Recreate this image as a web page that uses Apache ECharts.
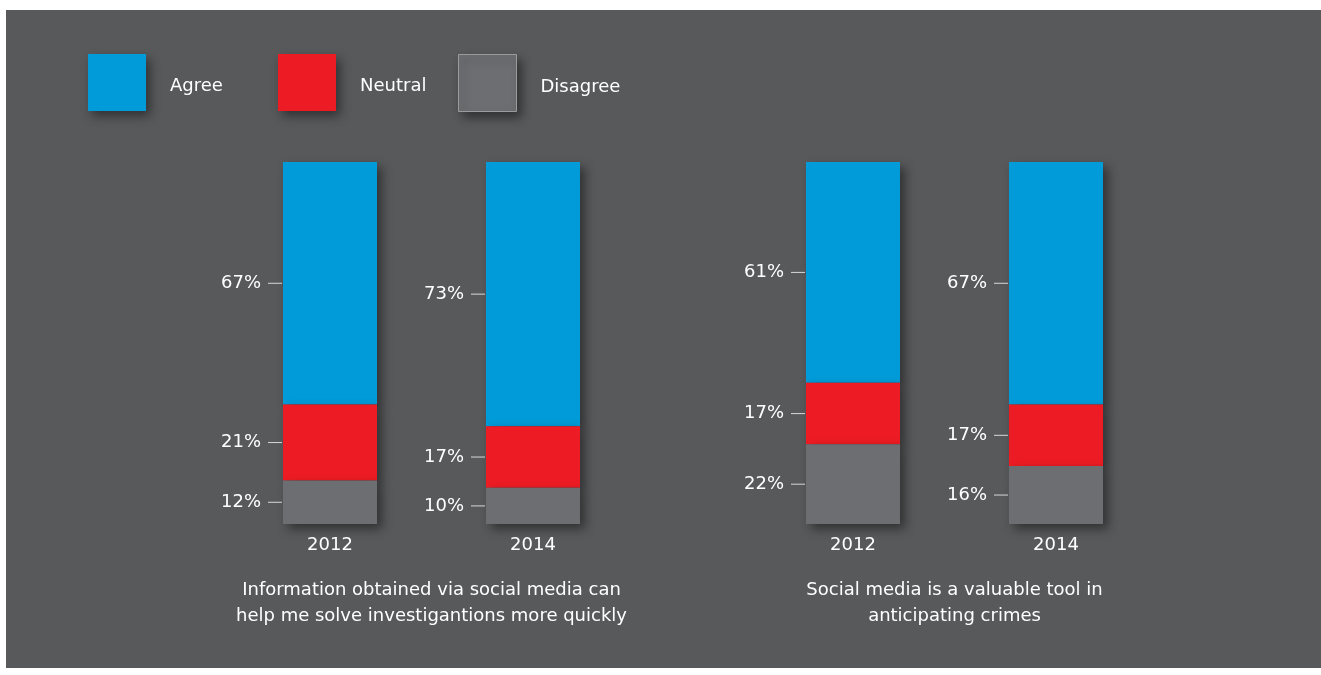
<!DOCTYPE html>
<html>
<head>
<meta charset="utf-8">
<script src="https://cdn.jsdelivr.net/npm/echarts@6/dist/echarts.min.js"></script>
<style>
html,body{margin:0;padding:0;background:#ffffff;width:1321px;height:675px;overflow:hidden;}
#chart{position:absolute;left:6px;top:10px;width:1315px;height:658px;background:#58595b;}
</style>
</head>
<body>
<div id="chart"></div>
<script>
// ---- data ----
const years = ['2012', '2014'];
const seriesNames = ['Agree', 'Neutral', 'Disagree'];
const q1Title = 'Information obtained via social media can\nhelp me solve investigantions more quickly';
const q2Title = 'Social media is a valuable tool in\nanticipating crimes';
const q1Agree = [67, 73];
const q1Neutral = [21, 17];
const q1Disagree = [12, 10];
const q2Agree = [61, 67];
const q2Neutral = [17, 17];
const q2Disagree = [22, 16];

// ---- styles ----
const COLORS = { Agree: '#009bd8', Neutral: '#ed1c24', Disagree: '#6d6e71' };
const FONT = '"DejaVu Sans", sans-serif';
const chart = echarts.init(document.getElementById('chart'));

const barShadow = { shadowBlur: 10, shadowColor: 'rgba(0,0,0,0.45)', shadowOffsetX: 5, shadowOffsetY: 5 };

function labelCfg() {
  return {
    show: true,
    position: 'left',
    distance: 1,
    formatter: p => '{v|' + p.value + '%}{g|}{ln|}',
    rich: {
      v: { color: '#ffffff', fontSize: 18, fontFamily: FONT },
      g: { width: 7 },
      ln: { width: 14, height: 1, backgroundColor: '#d8d8d8' }
    }
  };
}

function makeSeries(gridIdx, agree, neutral, disagree) {
  const stack = 's' + gridIdx;
  const defs = [
    { name: 'Disagree', data: disagree, z: 4 },
    { name: 'Neutral', data: neutral, z: 3 },
    { name: 'Agree', data: agree, z: 2 }
  ];
  return defs.map(d => ({
    type: 'bar',
    name: d.name,
    stack: stack,
    xAxisIndex: gridIdx,
    yAxisIndex: gridIdx,
    barWidth: 94,
    z: d.z,
    data: d.data,
    itemStyle: Object.assign({ color: COLORS[d.name] }, barShadow),
    label: labelCfg(),
    emphasis: { disabled: true }
  }));
}

function xAxisCfg(idx, title) {
  return {
    type: 'category',
    gridIndex: idx,
    data: years,
    axisLine: { show: false },
    axisTick: { show: false },
    axisLabel: { color: '#ffffff', fontSize: 18, fontFamily: FONT, margin: 12 },
    name: title,
    nameLocation: 'middle',
    nameGap: 53,
    nameTextStyle: { color: '#ffffff', fontSize: 18, fontFamily: FONT, lineHeight: 26 }
  };
}

function yAxisCfg(idx) {
  return { type: 'value', gridIndex: idx, min: 0, max: 100, show: false, splitLine: { show: false } };
}

function legendCfg(name, left, extra) {
  return {
    data: [name],
    left: left,
    top: 39,
    itemWidth: 58,
    itemHeight: 57,
    icon: 'rect',
    selectedMode: false,
    itemStyle: Object.assign({
      shadowBlur: 10, shadowColor: 'rgba(0,0,0,0.45)', shadowOffsetX: 4, shadowOffsetY: 5
    }, extra || {}),
    formatter: n => '{t|' + n + '}',
    textStyle: {
      color: '#ffffff', fontSize: 18, fontFamily: FONT,
      rich: { t: { color: '#ffffff', fontSize: 18, fontFamily: FONT, padding: [8, 0, 0, 19] } }
    }
  };
}

chart.setOption({
  animation: false,
  color: [COLORS.Disagree, COLORS.Neutral, COLORS.Agree],
  legend: [
    legendCfg('Agree', 77),
    legendCfg('Neutral', 267),
    legendCfg('Disagree', 447, { borderColor: '#9a9b9d', borderWidth: 1 })
  ],
  grid: [
    { left: 222.5, width: 406, top: 152, height: 362 },
    { left: 745.5, width: 406, top: 152, height: 362 }
  ],
  xAxis: [xAxisCfg(0, q1Title), xAxisCfg(1, q2Title)],
  yAxis: [yAxisCfg(0), yAxisCfg(1)],
  series: [].concat(
    makeSeries(0, q1Agree, q1Neutral, q1Disagree),
    makeSeries(1, q2Agree, q2Neutral, q2Disagree)
  )
});
</script>
</body>
</html>
